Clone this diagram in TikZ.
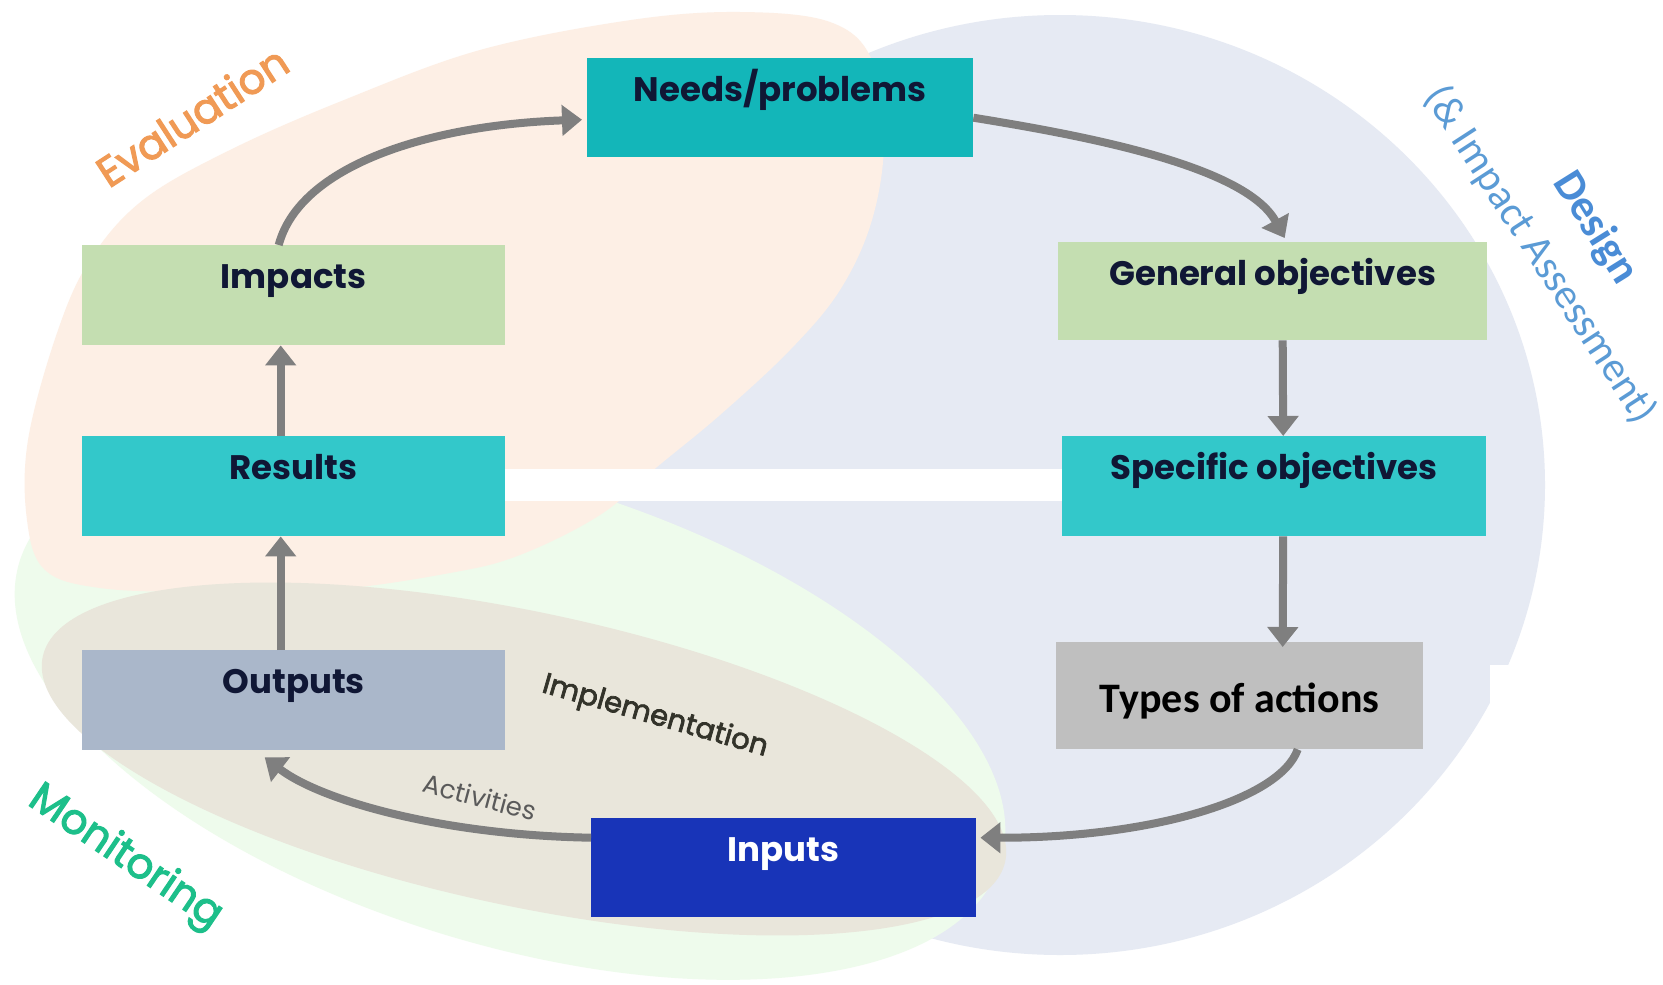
\documentclass[tikz,border=0pt]{standalone}
\usepackage{fontspec}
\usetikzlibrary{arrows.meta,calc}
\newfontfamily\popfont{Poppins}
\newfontfamily\popmid{Poppins}[FakeBold=2.5]
\newfontfamily\carlfont{Carlito}
\definecolor{peachbg}{HTML}{FDEFE5}
\definecolor{bluebg}{HTML}{E6EAF3}
\definecolor{greenbg}{HTML}{EEFBEC}
\definecolor{beigebg}{HTML}{E9E6DB}
\definecolor{tealdark}{HTML}{13B6B9}
\definecolor{tealmid}{HTML}{33C8CA}
\definecolor{boxgreen}{HTML}{C4DEB1}
\definecolor{boxslate}{HTML}{AAB7CA}
\definecolor{boxgray}{HTML}{BFBFBF}
\definecolor{boxblue}{HTML}{1834B8}
\definecolor{arrowgray}{HTML}{7F7F7F}
\definecolor{navytext}{HTML}{101735}
\definecolor{evalorange}{HTML}{F09A55}
\definecolor{designblue}{HTML}{4A8CD6}
\definecolor{iablue}{HTML}{5B9BD5}
\definecolor{mongreen}{HTML}{1DBF8A}
\definecolor{impltext}{HTML}{33332A}
\definecolor{acttext}{HTML}{5A5A5A}
\begin{document}
\begin{tikzpicture}[x=1pt,y=-1pt,
  box/.style={rectangle, inner sep=0pt, anchor=north west, align=center,
    font=\popfont\bfseries\fontsize{34}{40}\selectfont, text=navytext},
  conn/.style={draw=arrowgray, line width=8pt, -{Triangle[length=20pt,width=30pt]}},
  zonetext/.style={inner sep=0pt}]
\useasboundingbox (0,0) rectangle (1663,985);
\fill[white] (0,0) rectangle (1663,985);
% background zones
\fill[bluebg] (1060,485) ellipse [x radius=485pt, y radius=470pt];
\fill[white] (1490,665) rectangle (1560,752);
\fill[greenbg, rotate around={-17:(510,712)}] (510,712) ellipse [x radius=513pt, y radius=232pt];
\fill[peachbg] plot[smooth cycle, tension=0.6] coordinates {
  (631,20) (740,12) (830,22) (872,60) (884,140) (872,220) (840,290) (790,350)
  (720,415) (657,467) (600,515) (520,555) (450,573) (330,590) (200,592)
  (100,588) (45,570) (27,520) (28,440) (57,333) (90,260) (143,200) (230,150)
  (344,100) (480,50)};
\fill[beigebg, rotate around={-12:(524,759)}] (524,759) ellipse [x radius=492pt, y radius=147pt];
\fill[white] (505,469) rectangle (1062,501);
% boxes
\node[box, fill=tealdark, minimum width=386pt, minimum height=99pt, text height=43pt, text depth=56pt] (needs) at (587,58) {Needs/problems};
\node[box, fill=boxgreen, minimum width=423pt, minimum height=100pt, text height=43pt, text depth=57pt] (impacts) at (82,245) {Impacts};
\node[box, fill=tealmid, minimum width=423pt, minimum height=100pt, text height=43pt, text depth=57pt] (results) at (82,436) {Results};
\node[box, fill=boxslate, minimum width=423pt, minimum height=100pt, text height=43pt, text depth=57pt] (outputs) at (82,650) {Outputs};
\node[box, fill=boxgreen, minimum width=429pt, minimum height=98pt, text height=43pt, text depth=55pt] (general) at (1058,242) {General objectives};
\node[box, fill=tealmid, minimum width=424pt, minimum height=100pt, text height=43pt, text depth=57pt] (specific) at (1062,436) {Specific objectives};
\node[box, fill=boxgray, minimum width=367pt, minimum height=107pt, text height=70.5pt, text depth=36.5pt,
  font=\carlfont\bfseries\fontsize{42}{48}\selectfont, text=black] (types) at (1056,642) {Types of actions};
\node[box, fill=boxblue, minimum width=385pt, minimum height=99pt, text height=43pt, text depth=56pt, text=white] (inputs) at (591,818) {Inputs};
% connectors
\draw[conn] ($(results.north)+(-13,0)$) -- ($(impacts.south)+(-13,0)$);
\draw[conn] ($(outputs.north)+(-13,0)$) -- ($(results.south)+(-13,0)$);
\draw[conn] ($(impacts.north)+(-15,0)$) .. controls (300,165) and (430,125) .. ($(needs.west)+(-5,12)$);
\draw[conn] ($(needs.east)+(0,10)$) .. controls (1080,135) and (1245,165) .. ($(general.north)+(12,-4)$);
\draw[conn] ($(general.south)+(10,0)$) -- ($(specific.north)+(9,0)$);
\draw[conn] ($(specific.south)+(9,0)$) -- ($(types.north)+(43,5)$);
\draw[conn] ($(types.south)+(58,0)$) .. controls (1280,800) and (1150,838) .. ($(inputs.east)+(4,-30)$);
\draw[conn] ($(inputs.west)+(0,-30)$) .. controls (440,835) and (320,800) .. ($(outputs.south)+(-29,7)$);
% zone labels
\node[zonetext, font=\popmid\fontsize{42}{50}\selectfont, text=evalorange, rotate=33] (evaltxt) at (192,116) {Evaluation};
\node[zonetext, font=\carlfont\bfseries\fontsize{44}{52}\selectfont, text=designblue, rotate=-58] (designtxt) at (1595,228) {Design};
\node[zonetext, font=\carlfont\fontsize{42}{50}\selectfont, text=iablue, rotate=-57] (iatxt) at (1540,255) {(\& Impact Assessment)};
\node[zonetext, font=\popmid\fontsize{42}{50}\selectfont, text=mongreen, rotate=-34] (montxt) at (125,858) {Monitoring};
\node[zonetext, font=\popmid\fontsize{29}{34}\selectfont, text=impltext, rotate=-16] (impltxt) at (655,717) {Implementation};
\node[zonetext, font=\popfont\fontsize{26}{30}\selectfont, text=acttext, rotate=-15] (acttxt) at (480,797) {Activities};
\end{tikzpicture}
\end{document}
